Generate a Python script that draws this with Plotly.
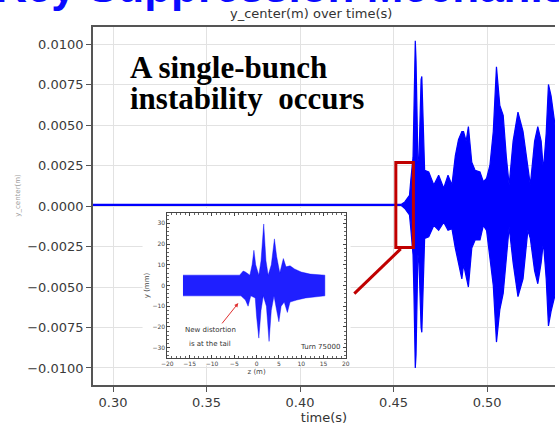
import plotly.graph_objects as go

# ---------------- data ----------------
main_t = [0.2893, 0.4540, 0.4560, 0.4575, 0.4585, 0.4592, 0.4598, 0.4604, 0.4609, 0.4613,
          0.4616, 0.4620, 0.4624, 0.4630, 0.4636, 0.4641, 0.4647, 0.4651, 0.4655, 0.4660,
          0.4666, 0.4688, 0.4715, 0.4741, 0.4768, 0.4791, 0.4812, 0.4830, 0.4847, 0.4865,
          0.4874, 0.4888, 0.4900, 0.4918, 0.4936, 0.4962, 0.4980, 0.4997, 0.5015, 0.5033,
          0.5050, 0.5068, 0.5086, 0.5103, 0.5118, 0.5139, 0.5165, 0.5192, 0.5218, 0.5231,
          0.5254, 0.5271, 0.5289, 0.5301, 0.5316, 0.5328, 0.5342, 0.5363]
main_upper = [0.00010, 0.00010, 0.00025, 0.00045, 0.00065, 0.0016, 0.0022, 0.0030, 0.0060, 0.0095,
              0.0102, 0.0090, 0.0050, 0.0028, 0.0030, 0.0055, 0.0078, 0.0080, 0.0065, 0.0035,
              0.0022, 0.0021, 0.0013, 0.0019, 0.0011, 0.0019, 0.0013, 0.0031, 0.0041, 0.0046,
              0.0046, 0.0040, 0.0049, 0.0027, 0.0022, 0.0021, 0.0015, 0.0017, 0.0025, 0.0046,
              0.0086, 0.0062, 0.0056, 0.0030, 0.0013, 0.0040, 0.0058, 0.0046, 0.0024, 0.0013,
              0.0040, 0.0049, 0.0040, 0.0022, 0.0045, 0.0075, 0.0068, 0.0050]
main_lower = [0.00004, 0.00004, -0.00015, -0.00035, -0.00055, -0.0014, -0.0021, -0.0030, -0.0055, -0.0090,
              -0.0100, -0.0092, -0.0055, -0.0030, -0.0035, -0.0055, -0.0075, -0.0078, -0.0060, -0.0032,
              -0.0020, -0.0019, -0.0012, -0.0015, -0.0010, -0.0015, -0.0014, -0.0026, -0.0035, -0.0045,
              -0.0036, -0.0044, -0.0050, -0.0026, -0.0021, -0.0021, -0.0012, -0.0015, -0.0033, -0.0049,
              -0.0084, -0.0064, -0.0054, -0.0030, -0.0013, -0.0035, -0.0056, -0.0045, -0.0015, -0.0020,
              -0.0040, -0.0048, -0.0035, -0.0022, -0.0045, -0.0074, -0.0065, -0.0055]

inset_z_up = [-16.5, -3.8, -3.0, -2.5, -1.5, -1.0, -0.6, -0.2, 0.5, 1.0, 1.6, 2.1, 2.6,
              3.3, 4.0, 4.5, 5.2, 5.6, 6.0, 6.6, 7.5, 8.5, 10.0, 12.0, 15.3]
inset_up = [5, 5, 7, 6.5, 5, 10, 17, 10, 5, 12, 29.7, 12, 5,
            10, 22.5, 14, 6, 10, 13, 9, 9.5, 8, 6.5, 5.5, 5]
inset_z_lo = [-16.5, -3.5, -2.5, -1.9, -1.3, -0.3, 0.0, 0.5, 1.0, 1.5, 2.2, 2.8, 3.3,
              3.9, 4.5, 5.0, 5.5, 6.2, 6.9, 7.5, 9.0, 11.0, 15.3]
inset_lo = [-5, -5, -7, -10, -5, -6, -15, -25.4, -12, -5, -10, -27, -12,
            -5, -12, -17.5, -10, -8, -13, -8, -7, -6, -5]

x_ticks = [0.30, 0.35, 0.40, 0.45, 0.50]
y_ticks = [-0.0100, -0.0075, -0.0050, -0.0025, 0.0, 0.0025, 0.0050, 0.0075, 0.0100]

# ---------------- figure ----------------
W, H = 559, 428
ML, MR, MT, MB = 93, 0, 27, 43
PW, PH = W - ML - MR, H - MT - MB


def px(xp):
    return (xp - ML) / PW


def py(yp):
    return (H - MB - yp) / PH


fig = go.Figure()

BLUE = "#0000ff"
RED = "#c00000"

fig.add_trace(go.Scatter(x=main_t, y=main_lower, mode="lines",
                         line=dict(color=BLUE, width=1.2), hoverinfo="skip",
                         showlegend=False, xaxis="x", yaxis="y"))
fig.add_trace(go.Scatter(x=main_t, y=main_upper, mode="lines", fill="tonexty",
                         fillcolor=BLUE, line=dict(color=BLUE, width=1.2),
                         showlegend=False, xaxis="x", yaxis="y"))

poly_z = inset_z_up + inset_z_lo[::-1]
poly_y = inset_up + inset_lo[::-1]
fig.add_trace(go.Scatter(x=poly_z, y=poly_y, mode="lines", fill="toself",
                         fillcolor="rgba(0,0,255,0.88)",
                         line=dict(color="rgba(0,0,255,0.7)", width=0.6),
                         showlegend=False, xaxis="x2", yaxis="y2"))

axis_common = dict(showgrid=True, gridcolor="#e2e2e2", gridwidth=1, zeroline=False,
                   showline=True, linecolor="#555555", linewidth=1.6,
                   ticks="outside", ticklen=5, tickwidth=1, tickcolor="#555555",
                   tickfont=dict(family="DejaVu Sans", size=13, color="#3a3a3a"))

fig.update_layout(
    width=W, height=H, autosize=False,
    margin=dict(l=ML, r=MR, t=MT, b=MB, pad=0),
    paper_bgcolor="white", plot_bgcolor="white",
    xaxis=dict(range=[0.2893, 0.5363], tickvals=x_ticks, tickformat=".2f",
               mirror=True, domain=[0, 1],
               title=dict(text="time(s)", standoff=3,
                          font=dict(family="DejaVu Sans", size=13, color="#333333")),
               **axis_common),
    yaxis=dict(range=[-0.01105, 0.01105], tickvals=y_ticks, tickformat=".4f",
               domain=[0, 1], **axis_common),
    xaxis2=dict(domain=[px(168), px(348)], anchor="y2", range=[-20, 20], dtick=5,
                showgrid=False, zeroline=False, showline=True, linecolor="#444444",
                linewidth=1, mirror="ticks", ticks="inside", ticklen=3, tickcolor="#444444",
                minor=dict(ticks="inside", ticklen=2, dtick=1, tickcolor="#666666"),
                tickfont=dict(family="DejaVu Sans", size=6, color="#444444"),
                title=dict(text="z (m)", standoff=2,
                           font=dict(family="DejaVu Sans", size=7, color="#444444"))),
    yaxis2=dict(domain=[py(358), py(213)], anchor="x2", range=[-35, 35], dtick=10,
                showgrid=False, zeroline=False, showline=True, linecolor="#444444",
                linewidth=1, mirror="ticks", ticks="inside", ticklen=3, tickcolor="#444444",
                minor=dict(ticks="inside", ticklen=2, dtick=2, tickcolor="#666666"),
                tickfont=dict(family="DejaVu Sans", size=6, color="#444444"),
                title=dict(text="y (mm)", standoff=2,
                           font=dict(family="DejaVu Sans", size=7, color="#444444"))),
)

# white background of pasted inset picture (hides main gridlines)
fig.add_shape(type="rect", xref="x", yref="y", x0=0.3158, x1=0.4270, y0=-0.00985, y1=-0.00012,
              fillcolor="white", line=dict(width=0), layer="between")
# red highlight box and connector
fig.add_shape(type="rect", xref="x", yref="y", x0=0.4512, x1=0.4606, y0=-0.00256, y1=0.00269,
              line=dict(color=RED, width=3), layer="above")
fig.add_shape(type="line", xref="x", yref="y", x0=0.4538, y0=-0.00265, x1=0.4290, y1=-0.00541,
              line=dict(color=RED, width=3), layer="above")

annots = [
    dict(text="y_center(m) over time(s)", x=px(313), y=py(13), xref="paper", yref="paper",
         showarrow=False, xanchor="center", yanchor="middle",
         font=dict(family="DejaVu Sans", size=13, color="#333333")),
    dict(text="Key Suppression Mechanism", x=px(-8), y=py(12.5), xref="paper", yref="paper",
         showarrow=False, xanchor="left", yanchor="bottom",
         font=dict(family="Liberation Sans", size=44, color="#0a0aff", weight="bold")),
    dict(text="y_center(m)", x=px(17), y=py(195), xref="paper", yref="paper",
         showarrow=False, textangle=-90, xanchor="center", yanchor="middle",
         font=dict(family="DejaVu Sans", size=7, color="#9a9a9a")),
    dict(text="<b>A single-bunch</b>", x=px(128), y=py(67), xref="paper", yref="paper",
         showarrow=False, xanchor="left", yanchor="middle",
         font=dict(family="Liberation Serif", size=31, color="black")),
    dict(text="<b>instability  occurs</b>", x=px(128), y=py(98), xref="paper", yref="paper",
         showarrow=False, xanchor="left", yanchor="middle",
         font=dict(family="Liberation Serif", size=31, color="black")),
    dict(text="New distortion", x=-10.4, y=-21.5, xref="x2", yref="y2", showarrow=False,
         font=dict(family="DejaVu Sans", size=7, color="#333333")),
    dict(text="is at the tail", x=-10.4, y=-28, xref="x2", yref="y2", showarrow=False,
         font=dict(family="DejaVu Sans", size=7, color="#333333")),
    dict(text="Turn 75000", x=14.3, y=-29.5, xref="x2", yref="y2", showarrow=False,
         font=dict(family="DejaVu Sans", size=7, color="#333333")),
    dict(text="", x=-4.1, y=-8.5, ax=-8.0, ay=-19.0, xref="x2", yref="y2",
         axref="x2", ayref="y2", showarrow=True, arrowhead=2, arrowsize=0.8,
         arrowwidth=1, arrowcolor="#e03030"),
]
fig.update_layout(annotations=annots)

fig.write_html(
    "out.html",
    config={"displayModeBar": False},
    post_script="document.body.style.margin='0';document.body.style.overflow='hidden';",
)
